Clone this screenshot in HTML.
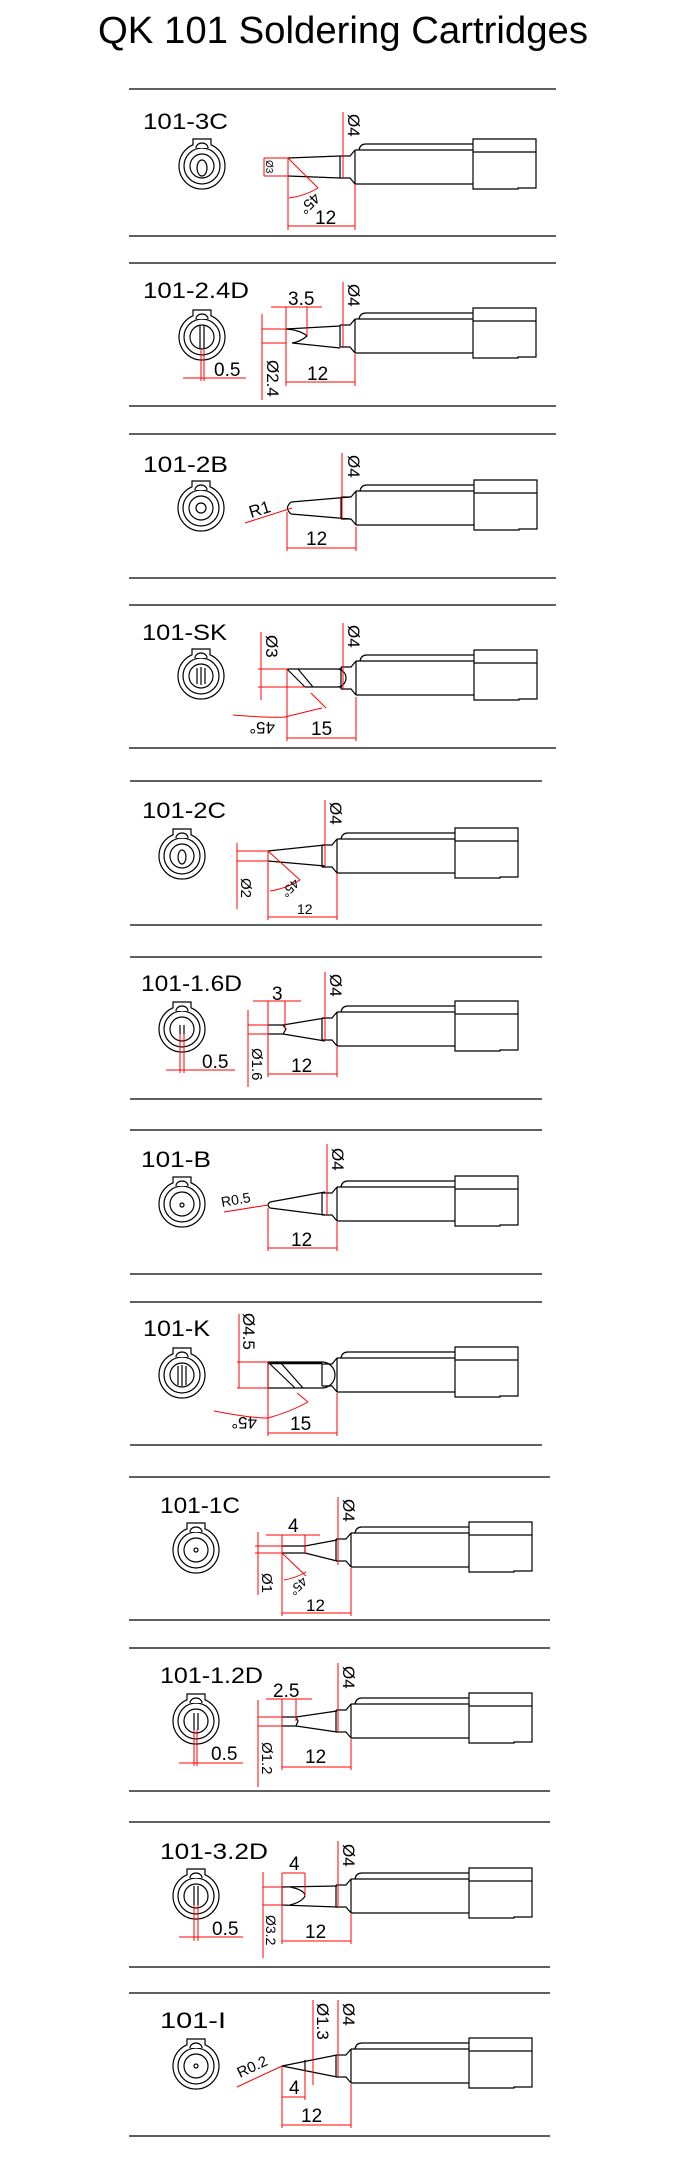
<!DOCTYPE html>
<html><head><meta charset="utf-8"><style>
html,body{margin:0;padding:0;background:#fff;}
svg{display:block;}
text{font-family:"Liberation Sans",sans-serif;}
.k{stroke:#000;stroke-width:1.2;fill:none;}
.r{stroke:#f00;stroke-width:1;fill:none;}
.l{fill:#000;font-size:22px;}
.d{fill:#000;font-size:19px;}
</style></head><body>
<svg width="700" height="2171" viewBox="0 0 700 2171" xmlns="http://www.w3.org/2000/svg">
<defs>
<g id="body">
<path class="k" d="M-15,-11 V11 M-15,-11 H-5 L0,-17 M-15,11 H-5 L0,17 M0,-17 V17 M0,-17 H118 M0,17 H118 M4,-17 Q5,-23 11,-23 H118 M118,-28 H181 V21 H163 V22 H118 Z M118,-15 H181"/>
</g>
<g id="icon">
<circle class="k" r="23"/><circle class="k" r="18"/><circle class="k" r="12"/>
<path class="k" d="M-9,-21 V-27 H9 V-21 M-6,-18 A6 5 0 0 1 6,-18" style="fill:#fff"/>
</g>
</defs>
<text x="98" y="43" font-size="38" textLength="490" lengthAdjust="spacingAndGlyphs">QK 101 Soldering Cartridges</text>

<!-- section lines -->
<path class="k" d="M129,89H556M129,236H556M129,263H556M129,406H556M129,434H556M129,578H556M129,605H556M129,748H556
M130,781H542M130,925H542M130,957H542M130,1099H542M130,1130H542M130,1274H542M130,1302H542M130,1445H542
M129,1477H550M129,1620H550M129,1648H550M129,1791H550M129,1822H550M129,1967H550M129,1993H550M129,2136H550"/>

<!-- labels -->
<text class="l" x="143" y="129" textLength="85" lengthAdjust="spacingAndGlyphs">101-3C</text>
<text class="l" x="143" y="298" textLength="106" lengthAdjust="spacingAndGlyphs">101-2.4D</text>
<text class="l" x="143" y="472" textLength="85" lengthAdjust="spacingAndGlyphs">101-2B</text>
<text class="l" x="142" y="640" textLength="85" lengthAdjust="spacingAndGlyphs">101-SK</text>
<text class="l" x="142" y="818" textLength="84" lengthAdjust="spacingAndGlyphs">101-2C</text>
<text class="l" x="141" y="991" textLength="101" lengthAdjust="spacingAndGlyphs">101-1.6D</text>
<text class="l" x="141" y="1167" textLength="70" lengthAdjust="spacingAndGlyphs">101-B</text>
<text class="l" x="143" y="1336" textLength="67" lengthAdjust="spacingAndGlyphs">101-K</text>
<text class="l" x="160" y="1513" textLength="80" lengthAdjust="spacingAndGlyphs">101-1C</text>
<text class="l" x="160" y="1683" textLength="103" lengthAdjust="spacingAndGlyphs">101-1.2D</text>
<text class="l" x="160" y="1859" textLength="108" lengthAdjust="spacingAndGlyphs">101-3.2D</text>
<text class="l" x="160" y="2028" textLength="66" lengthAdjust="spacingAndGlyphs">101-I</text>

<!-- bodies -->
<use href="#body" x="355" y="167"/><use href="#body" x="355" y="336"/>
<use href="#body" x="356" y="508"/><use href="#body" x="356" y="678"/>
<use href="#body" x="337" y="856"/><use href="#body" x="337" y="1029"/>
<use href="#body" x="337" y="1204"/><use href="#body" x="337" y="1375"/>
<use href="#body" x="351" y="1550"/><use href="#body" x="351" y="1721"/>
<use href="#body" x="351" y="1896"/><use href="#body" x="351" y="2066"/>

<!-- icons -->
<use href="#icon" x="202" y="166"/><ellipse class="k" cx="202" cy="168" rx="5" ry="8"/>
<use href="#icon" x="202" y="337"/><path class="k" d="M200,325V349M204,325V349"/>
<use href="#icon" x="201" y="508"/><circle class="k" cx="201" cy="508" r="5"/>
<use href="#icon" x="201" y="676"/><path class="k" d="M197,668V684M201,667V685M205,668V684"/>
<use href="#icon" x="182" y="856"/><ellipse class="k" cx="182" cy="857" rx="4" ry="7"/>
<use href="#icon" x="182" y="1029"/><path class="k" d="M180,1025V1034M184,1025V1034"/>
<use href="#icon" x="182" y="1204"/><circle class="k" cx="182" cy="1205" r="2"/>
<use href="#icon" x="182" y="1375"/><path class="k" d="M178,1366V1385M182,1365V1386M186,1366V1385"/>
<use href="#icon" x="196" y="1550"/><circle class="k" cx="196" cy="1550" r="2"/>
<use href="#icon" x="196" y="1721"/><path class="k" d="M194,1713V1730M198,1713V1730"/>
<use href="#icon" x="196" y="1896"/><path class="k" d="M194,1886V1905M198,1886V1905"/>
<use href="#icon" x="196" y="2066"/><circle class="k" cx="196" cy="2066" r="2"/>

<!-- S1 3C -->
<path class="k" d="M288,158 L340,156 M288,176 L340,178"/>
<path class="r" d="M264,158V176M264,158H288M264,176H288M343,112V178M288,158L318,188M289,198Q305,196 318,188M288,158V230M355,184V230M288,226H355"/>
<text transform="translate(266,160) rotate(90)" font-size="10">Ø3</text>
<text transform="translate(348,114) rotate(90)" font-size="17">Ø4</text>
<text transform="translate(314,192) rotate(135)" font-size="15">45°</text>
<text class="d" x="315" y="224" font-size="17">12</text>

<!-- S2 2.4D -->
<path class="k" d="M286,329 Q300,330 307,336 Q300,342 292,343 M286,329 L340,326 M292,343 L340,348"/>
<path class="r" d="M271,307H322M286,307V386M307,307V336M262,314V400M262,329H286M262,343H286M343,282V348M183,378H246M355,354V386M286,382H355M201,350V381M204,350V381"/>
<text class="d" x="288" y="305">3.5</text>
<text transform="translate(267,360) rotate(90)" font-size="17">Ø2.4</text>
<text transform="translate(348,284) rotate(90)" font-size="17">Ø4</text>
<text class="d" x="214" y="376">0.5</text>
<text class="d" x="307" y="380">12</text>

<!-- S3 2B -->
<path class="k" d="M291,502 L350,497 M291,514 L350,519 M291,502 Q284,508 291,514"/>
<path class="r" d="M342,453V519M245,523L292,508M287,512V551M356,527V551M287,548H356"/>
<text transform="translate(348,455) rotate(90)" font-size="17">Ø4</text>
<text transform="translate(251,518) rotate(-17)" font-size="17">R1</text>
<text class="d" x="306" y="545">12</text>

<!-- S4 SK -->
<path class="k" d="M287,669H342M305,687H342M287,669L305,687M298,669L313,687M337,669A9 9 0 0 1 337,687"/>
<path class="r" d="M258,669H288M258,687H305M261,632V700M287,669V741M343,623V690M233,715Q270,718 285,717Q305,712 322,708M311,693L326,708M356,697V741M287,738H356"/>
<text transform="translate(266,635) rotate(90)" font-size="17">Ø3</text>
<text transform="translate(348,625) rotate(90)" font-size="17">Ø4</text>
<text transform="translate(275,722) rotate(180)" font-size="17">45°</text>
<text class="d" x="311" y="735">15</text>

<!-- S5 2C -->
<path class="k" d="M268,851 L325,845 M268,861 L325,866"/>
<path class="r" d="M237,843V909M237,851H268M237,861H268M268,851L300,880M270,891Q288,888 300,880M268,851V920M337,873V920M268,917H337M325,800V866"/>
<text transform="translate(241,878) rotate(90)" font-size="15">Ø2</text>
<text transform="translate(294,878) rotate(135)" font-size="13">45°</text>
<text x="297" y="914" font-size="14">12</text>
<text transform="translate(330,802) rotate(90)" font-size="17">Ø4</text>

<!-- S6 1.6D -->
<path class="k" d="M268,1025H283L286,1029L283,1034H268M283,1025L325,1018M283,1034L325,1041"/>
<path class="r" d="M253,1001H301M268,1001V1077M285,1001V1029M248,1010V1087M248,1025H268M248,1034H268M166,1070H235M180,1034V1073M184,1034V1073M337,1047V1077M268,1074H337M325,972V1041"/>
<text class="d" x="272" y="1000">3</text>
<text transform="translate(252,1048) rotate(90)" font-size="15">Ø1.6</text>
<text class="d" x="202" y="1068">0.5</text>
<text class="d" x="291" y="1072">12</text>
<text transform="translate(330,974) rotate(90)" font-size="17">Ø4</text>

<!-- S7 B -->
<path class="k" d="M270,1202 L325,1192 M270,1208 L325,1215 M270,1202 Q266,1205 270,1208"/>
<path class="r" d="M224,1212L268,1205M268,1208V1251M337,1222V1251M268,1248H337M327,1144V1215"/>
<text transform="translate(222,1207) rotate(-10)" font-size="14">R0.5</text>
<text class="d" x="291" y="1246">12</text>
<text transform="translate(332,1148) rotate(90)" font-size="17">Ø4</text>

<!-- S8 K -->
<path class="k" d="M268,1362H322M268,1388H322M268,1362V1388M268,1362L295,1388M280,1362L303,1388M322,1362A13 13 0 0 1 322,1388"/>
<path class="k" d="M268,1363H322" style="stroke-width:2.5"/>
<path class="r" d="M239,1314V1388M237,1362H268M237,1388H268M268,1362V1436M214,1411Q250,1418 268,1418Q290,1412 308,1402M297,1393L308,1402M337,1393V1436M268,1433H337"/>
<text transform="translate(243,1313) rotate(90)" font-size="17">Ø4.5</text>
<text transform="translate(257,1417) rotate(180)" font-size="17">45°</text>
<text class="d" x="290" y="1430">15</text>

<!-- S9 1C -->
<path class="k" d="M282,1546H305L337,1540M282,1553H305L337,1561M305,1546V1553"/>
<path class="r" d="M266,1535H320M282,1535V1616M305,1535V1553M258,1532V1595M255,1546H282M255,1553H282M282,1553L306,1576M284,1580Q296,1578 306,1572M351,1568V1616M282,1613H351M338,1497V1565"/>
<text class="d" x="288" y="1532">4</text>
<text transform="translate(262,1573) rotate(90)" font-size="15">Ø1</text>
<text transform="translate(302,1576) rotate(135)" font-size="13">45°</text>
<text x="306" y="1611" font-size="17">12</text>
<text transform="translate(343,1499) rotate(90)" font-size="17">Ø4</text>

<!-- S10 1.2D -->
<path class="k" d="M282,1717H296L298,1721L296,1726H282M296,1717L337,1711M296,1726L337,1732"/>
<path class="r" d="M266,1699H312M282,1699V1770M296,1699V1721M258,1700V1787M258,1717H282M258,1726H282M179,1763H243M194,1730V1766M197,1730V1766M351,1739V1770M282,1767H351M338,1663V1732"/>
<text class="d" x="273" y="1697">2.5</text>
<text transform="translate(262,1742) rotate(90)" font-size="15">Ø1.2</text>
<text class="d" x="211" y="1760">0.5</text>
<text class="d" x="305" y="1763">12</text>
<text transform="translate(343,1666) rotate(90)" font-size="17">Ø4</text>

<!-- S11 3.2D -->
<path class="k" d="M282,1887L337,1886M282,1905L337,1907M290,1887Q305,1890 305,1896Q302,1902 290,1905M282,1887V1905"/>
<path class="r" d="M282,1873H305M282,1873V1944M305,1873V1896M263,1872V1958M263,1887H282M263,1905H282M179,1937H243M194,1905V1941M198,1905V1941M351,1914V1944M282,1941H351M338,1841V1908"/>
<text class="d" x="289" y="1870">4</text>
<text transform="translate(266,1915) rotate(90)" font-size="14">Ø3.2</text>
<text class="d" x="212" y="1935">0.5</text>
<text class="d" x="305" y="1938">12</text>
<text transform="translate(343,1844) rotate(90)" font-size="17">Ø4</text>

<!-- S12 I -->
<path class="k" d="M282,2066L337,2055M282,2066L337,2077M305,2060V2072"/>
<path class="r" d="M313,2000V2085M338,2000V2077M237,2087L282,2066M282,2097H305M305,2070V2100M282,2066V2128M351,2084V2128M282,2125H351"/>
<text transform="translate(317,2003) rotate(90)" font-size="17">Ø1.3</text>
<text transform="translate(343,2003) rotate(90)" font-size="17">Ø4</text>
<text transform="translate(240,2078) rotate(-25)" font-size="15">R0.2</text>
<text class="d" x="289" y="2094">4</text>
<text class="d" x="301" y="2122">12</text>
</svg>
</body></html>
